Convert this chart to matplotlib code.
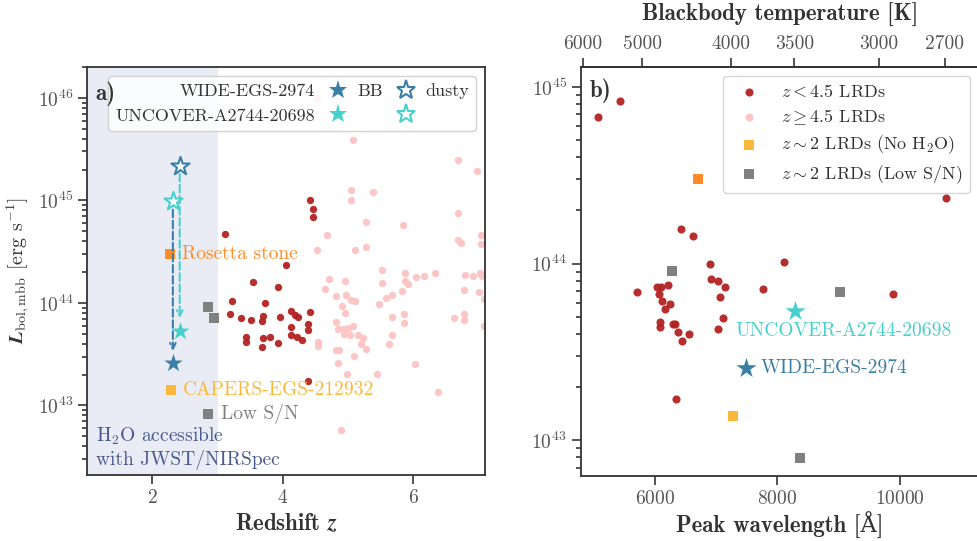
import numpy as np
import matplotlib
matplotlib.use("Agg")
import matplotlib.pyplot as plt
from matplotlib.lines import Line2D

# ---- data (L values stored as log10) ----
# panel a: redshift vs bolometric luminosity
lo_z = [3.11, 4.42, 4.46, 4.47, 4.05, 3.55, 3.92, 3.22, 3.72, 3.19, 3.36, 3.51, 3.70, 3.68, 3.96, 4.13,
        4.18, 4.23, 4.42, 4.13, 4.39, 4.39, 3.44, 3.44, 3.70, 3.80, 4.12, 4.22, 4.29, 3.93, 3.68, 4.39]
lo_logL = [44.67, 45.00, 44.92, 44.84, 44.37, 44.20, 44.16, 44.02, 44.00, 43.89, 43.85, 43.83, 43.87, 43.82, 43.86, 43.92,
           43.88, 43.86, 43.91, 43.77, 43.79, 43.74, 43.67, 43.62, 43.66, 43.67, 43.69, 43.67, 43.64, 43.61, 43.57, 43.24]

hi_z = [5.07, 6.68, 6.98, 5.04, 5.38, 5.04, 5.28, 6.69, 5.84, 4.68, 7.03, 6.69, 6.73, 7.04, 4.52, 5.10,
        5.28, 5.52, 5.87, 6.04, 6.17, 6.34, 6.79, 6.91, 7.02, 7.06, 4.71, 4.95, 4.65, 5.52, 5.87, 5.92,
        5.83, 6.77, 7.01, 7.09, 4.82, 4.97, 5.05, 5.11, 4.91, 4.96, 5.48, 5.58, 5.67, 5.85, 5.68, 5.86,
        6.62, 6.77, 6.77, 7.08, 5.08, 4.82, 4.92, 4.85, 5.00, 5.03, 4.94, 5.15, 5.23, 5.20, 5.28, 5.67,
        5.62, 4.54, 4.54, 4.81, 4.86, 5.09, 4.85, 4.98, 5.44, 6.03, 6.38, 4.89, 4.53]
hi_logL = [45.59, 45.39, 45.29, 45.10, 45.08, 45.00, 44.79, 44.88, 44.76, 44.66, 44.66, 44.61, 44.58, 44.57, 44.52, 44.52,
           44.55, 44.32, 44.29, 44.25, 44.26, 44.29, 44.27, 44.26, 44.29, 44.26, 44.23, 44.21, 44.14, 44.19, 44.21, 44.18,
           44.12, 44.13, 44.11, 44.04, 44.07, 44.08, 44.03, 44.02, 43.97, 43.90, 43.99, 44.05, 44.08, 43.89, 43.86, 43.80,
           43.85, 43.89, 43.83, 43.78, 43.78, 43.81, 43.75, 43.75, 43.76, 43.69, 43.70, 43.69, 43.66, 43.60, 43.55, 43.69,
           43.60, 43.62, 43.58, 43.54, 43.54, 43.48, 43.41, 43.31, 43.31, 43.40, 43.13, 42.76, 46.00]

lowsn_z = [2.86, 2.95, 2.86]
lowsn_logL = [43.96, 43.85, 42.92]
rosetta_z, rosetta_logL = 2.27, 44.48
capers_z, capers_logL = 2.28, 43.15

# WIDE-EGS-2974, UNCOVER-A2744-20698
src_names = ["WIDE-EGS-2974", "UNCOVER-A2744-20698"]
src_z = [2.315, 2.42]
src_logL_bb = [43.41, 43.73]
src_logL_dusty = [44.99, 45.34]

# panel b: peak wavelength [A] vs luminosity
b_lo_lam = [5064, 5434, 6429, 6620, 6907, 8108, 10761, 5716, 6043, 6097, 6212, 6076, 6109, 6255, 6168, 6081,
            6081, 6298, 6331, 6375, 6451, 6560, 6913, 7032, 7141, 7065, 7119, 7032, 7766, 9886, 6353]
b_lo_logL = [44.83, 44.92, 44.195, 44.154, 44.00, 44.01, 44.37, 43.84, 43.87, 43.87, 43.88, 43.83, 43.79, 43.77, 43.74, 43.67,
             43.64, 43.66, 43.66, 43.61, 43.56, 43.60, 43.91, 43.90, 43.87, 43.81, 43.69, 43.63, 43.855, 43.83, 43.235]
b_hi_lam = [7555]
b_hi_logL = [44.67]
b_noh2o_lam = [6701, 7282]
b_noh2o_logL = [44.48, 43.14]
b_lowsn_lam = [6277, 9026, 8370]
b_lowsn_logL = [43.955, 43.84, 42.90]
b_src_lam = [7494, 8288]
b_src_logL = [43.41, 43.73]

temp_ticks = [6000, 5000, 4000, 3500, 3000, 2700]
WIEN_B = 2.898e7  # Angstrom K

# ---- style ----
plt.rcParams.update({
    "font.family": ["cmr10", "DejaVu Serif"],
    "mathtext.fontset": "cm",
    "axes.unicode_minus": False,
    "axes.formatter.use_mathtext": True,
    "text.color": "#333333",
    "axes.labelcolor": "#333333",
    "axes.edgecolor": "#333333",
    "xtick.color": "#333333",
    "ytick.color": "#333333",
    "xtick.labelcolor": "#555555",
    "ytick.labelcolor": "#555555",
    "axes.linewidth": 1.3,
    "xtick.labelsize": 14,
    "ytick.labelsize": 14,
})
bold = {"family": ["cmb10", "DejaVu Serif"], "size": 16.5}

c_lo = "#b22222"
c_hi = "#fdc6c6"
c_rosetta = "#ff8c28"
c_capers = "#fbb93c"
c_gray = "#808080"
c_wide = "#3b7ea6"
c_unc = "#48d1cc"
src_colors = [c_wide, c_unc]

fig = plt.figure(figsize=(9.78, 5.41), dpi=100)
ax = fig.add_axes([0.089, 0.122, 0.407, 0.7542])
bx = fig.add_axes([0.5938, 0.1207, 0.407, 0.756])

# ================= panel a =================
ax.set_yscale("log")
ax.set_xlim(1.0, 7.1)
ax.set_ylim(2.1e42, 2e46)
ax.axvspan(1.0, 3.0, color="#e9ecf5", zorder=0, lw=0)

ax.scatter(hi_z, 10 ** np.array(hi_logL), s=28, color=c_hi, lw=0, zorder=2)
ax.scatter(lo_z, 10 ** np.array(lo_logL), s=28, color=c_lo, alpha=0.95, lw=0, zorder=3)
ax.scatter(lowsn_z, 10 ** np.array(lowsn_logL), s=48, marker="s", color=c_gray, lw=0, zorder=4)
ax.scatter([rosetta_z], [10 ** rosetta_logL], s=48, marker="s", color=c_rosetta, lw=0, zorder=4)
ax.scatter([capers_z], [10 ** capers_logL], s=48, marker="s", color=c_capers, lw=0, zorder=4)

ax.annotate("Rosetta stone", (rosetta_z, 10 ** rosetta_logL), xytext=(9, 0), textcoords="offset points",
            va="center", color=c_rosetta, fontsize=14)
ax.annotate("CAPERS-EGS-212932", (capers_z, 10 ** capers_logL), xytext=(9, 0), textcoords="offset points",
            va="center", color=c_capers, fontsize=14)
ax.annotate("Low S/N", (lowsn_z[2], 10 ** lowsn_logL[2]), xytext=(9, 0), textcoords="offset points",
            va="center", color=c_gray, fontsize=14)

# arrows dusty -> BB, and the stars
for i in range(2):
    ax.annotate("", xy=(src_z[i], 10 ** src_logL_bb[i]), xytext=(src_z[i], 10 ** src_logL_dusty[i]),
                arrowprops=dict(arrowstyle="->", ls="--", color=src_colors[i], lw=1.5,
                                shrinkA=6, shrinkB=9), zorder=4)
    ax.scatter([src_z[i]], [10 ** src_logL_bb[i]], s=190, marker="*", color=src_colors[i], lw=0, zorder=5)
    ax.scatter([src_z[i]], [10 ** src_logL_dusty[i]], s=190, marker="*", facecolor="white",
               edgecolor=src_colors[1 - i], lw=1.5, zorder=5)

ax.text(0.022, 0.012, "H$_2$O accessible\nwith JWST/NIRSpec", transform=ax.transAxes,
        color="#4a5890", fontsize=14, va="bottom", ha="left")
ax.text(0.02, 0.965, "a)", transform=ax.transAxes, fontdict=bold, va="top", ha="left", zorder=10)

ax.set_xticks([2, 4, 6])
ax.set_xlabel(r"Redshift $\boldsymbol{z}$", fontdict=bold, labelpad=4)
ax.set_ylabel(r"$\boldsymbol{L}_{\rm bol,mbb}$ [erg s$^{-1}$]", fontsize=14.5)
ax.tick_params(which="both", direction="out", width=1.2, top=False, right=False)
ax.tick_params(which="major", length=6.5)
ax.tick_params(which="minor", length=3.5)

def star(color, filled):
    if filled:
        return Line2D([], [], ls="none", marker="*", ms=14, color=color, mew=0)
    return Line2D([], [], ls="none", marker="*", ms=14, mfc="white", mec=color, mew=1.5)

empty = Line2D([], [], ls="none")
leg_a = ax.legend([star(c_wide, True), star(c_unc, True), star(c_wide, False), star(c_unc, False), empty, empty],
                  [src_names[0], src_names[1], "BB", "", "dusty", ""],
                  ncol=3, markerfirst=False, loc="upper right", fontsize=13, handlelength=1.0,
                  handletextpad=0.8, columnspacing=0.55, framealpha=0.85, edgecolor="#cccccc")
# last column carries text only
for item in leg_a._legend_handle_box.get_children()[2].get_children():
    item.sep = 0
    item.get_children()[1].width = 0

# ================= panel b =================
bx.set_yscale("log")
bx.set_xlim(4790, 11290)
bx.set_ylim(6.3e42, 1.3e45)

bx.scatter(b_lo_lam, 10 ** np.array(b_lo_logL), s=34, color=c_lo, alpha=0.95, lw=0, zorder=3, label=r"$z<4.5$ LRDs")
bx.scatter(b_hi_lam, 10 ** np.array(b_hi_logL), s=34, color=c_hi, lw=0, zorder=2, label=r"$z\geq4.5$ LRDs")
bx.scatter(b_noh2o_lam[1:], 10 ** np.array(b_noh2o_logL[1:]), s=56, marker="s", color=c_capers, lw=0, zorder=4,
           label=r"$z\sim2$ LRDs (No H$_2$O)")
bx.scatter(b_noh2o_lam[:1], 10 ** np.array(b_noh2o_logL[:1]), s=56, marker="s", color=c_rosetta, lw=0, zorder=4)
bx.scatter(b_lowsn_lam, 10 ** np.array(b_lowsn_logL), s=56, marker="s", color=c_gray, lw=0, zorder=4,
           label=r"$z\sim2$ LRDs (Low S/N)")
for i in range(2):
    bx.scatter([b_src_lam[i]], [10 ** b_src_logL[i]], s=230, marker="*", color=src_colors[i], lw=0, zorder=5)

bx.annotate(src_names[0], (b_src_lam[0], 10 ** b_src_logL[0]), xytext=(10, 0), textcoords="offset points",
            va="center", ha="left", color=c_wide, fontsize=14)
bx.annotate(src_names[1], (b_src_lam[1], 10 ** b_src_logL[1]), xytext=(-43, -14), textcoords="offset points",
            va="center", ha="left", color=c_unc, fontsize=14)

bx.text(0.022, 0.972, "b)", transform=bx.transAxes, fontdict=bold, va="top", ha="left", zorder=10)
bx.legend(loc="upper right", fontsize=13, framealpha=0.8, edgecolor="#cccccc", labelspacing=0.38)

bx.set_xticks([6000, 8000, 10000])
bx.set_xlabel(r"Peak wavelength [Å]", fontdict=bold, labelpad=3)
bx.tick_params(which="both", direction="out", width=1.2, top=False, right=False)
bx.tick_params(which="major", length=6.5)
bx.tick_params(which="minor", length=3.5)

def lam_to_temp(x):
    x = np.asarray(x, dtype=float)
    return WIEN_B / np.where(x == 0, 1e-9, x)

sec = bx.secondary_xaxis("top", functions=(lam_to_temp, lam_to_temp))
sec.set_xticks(temp_ticks)
sec.set_xticklabels([str(t) for t in temp_ticks])
sec.xaxis.set_minor_locator(matplotlib.ticker.NullLocator())
sec.tick_params(direction="out", width=1.2, length=6.5)
sec.set_xlabel("Blackbody temperature [K]", fontdict=bold, labelpad=10)

fig.savefig("out.png", dpi=100)
